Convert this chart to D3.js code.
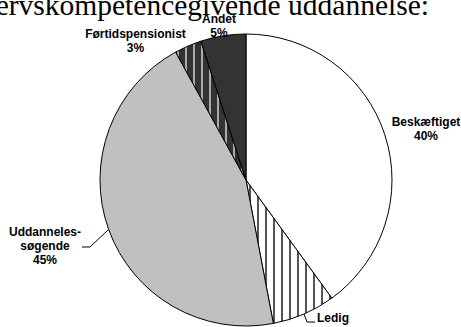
<!DOCTYPE html>
<html>
<head>
<meta charset="utf-8">
<script src="https://cdn.jsdelivr.net/npm/d3@7"></script>
<style>
  html, body { margin: 0; padding: 0; background: #fff; }
  svg { display: block; }
</style>
</head>
<body>
<svg id="chart" width="461" height="327"></svg>
<script>
// Status categories and their shares (%)
const categories = ["Beskæftiget", "Ledig", "Uddannelsessøgende", "Førtidspensionist", "Andet"];
const labelLines = [["Beskæftiget"], ["Ledig"], ["Uddanneles-", "søgende"], ["Førtidspensionist"], ["Andet"]];
const shares = [40, 7, 45, 3, 5];
// Which labels carry a percentage line (the "Ledig" label sits on the bottom edge)
const showPercent = [true, false, true, true, true];
const title = "erhvervskompetencegivende uddannelse:";

const W = 461, H = 327;
const cx = 246, cy = 180, R = 146;

const svg = d3.select("#chart");
const defs = svg.append("defs");

// Vertical-stripe fills
function stripes(id, bg, fg, width) {
  const p = defs.append("pattern")
    .attr("id", id)
    .attr("patternUnits", "userSpaceOnUse")
    .attr("width", 8).attr("height", 8);
  p.append("rect").attr("width", 8).attr("height", 8).attr("fill", bg);
  p.append("rect").attr("x", 3).attr("width", width).attr("height", 8).attr("fill", fg);
}
stripes("stripeLight", "#ffffff", "#555555", 2);
stripes("stripeDark", "#333333", "#aaaaaa", 2);

const fills = ["#ffffff", "url(#stripeLight)", "#c0c0c0", "url(#stripeDark)", "#333333"];

// Title (large serif line running off the top edge)
svg.append("text")
  .attr("x", 429).attr("y", 15)
  .attr("text-anchor", "end")
  .attr("font-family", "'Liberation Serif', 'Times New Roman', serif")
  .attr("font-size", 29.5)
  .attr("fill", "#000")
  .text(title);

const pie = d3.pie().sort(null).value(d => d)
  .startAngle(0).endAngle(2 * Math.PI);
const arcs = pie(shares);
const arc = d3.arc().innerRadius(0).outerRadius(R);

const g = svg.append("g").attr("transform", `translate(${cx},${cy})`);
g.selectAll("path.slice")
  .data(arcs)
  .join("path")
  .attr("class", "slice")
  .attr("d", arc)
  .attr("fill", (d, i) => fills[i])
  .attr("stroke", "#000")
  .attr("stroke-width", 1);

// Label placement (text centre x, first baseline y) and optional leader elbow
const labelLayout = [
  { x: 426, y: 126 },
  { x: 333, y: 322, leader: { ex: 307, ey: 322, tx: 315 } },
  { x: 45, y: 236, leader: { ex: 90, ey: 247, tx: 82 } },
  { x: 135.5, y: 38 },
  { x: 219, y: 23 }
];

const lineH = 14;
arcs.forEach((a, i) => {
  const lay = labelLayout[i];
  const lines = labelLines[i].concat(showPercent[i] ? [d3.format("d")(a.data) + "%"] : []);
  const t = svg.append("text")
    .attr("text-anchor", "middle")
    .attr("font-family", "'Liberation Sans', Arial, sans-serif")
    .attr("font-weight", "bold")
    .attr("font-size", 12)
    .attr("fill", "#000");
  lines.forEach((s, k) => {
    t.append("tspan").attr("x", lay.x).attr("y", lay.y + k * lineH).text(s);
  });
  if (lay.leader) {
    const mid = (a.startAngle + a.endAngle) / 2;
    const px = cx + R * Math.sin(mid), py = cy - R * Math.cos(mid);
    svg.append("polyline")
      .attr("points", [[px, py], [lay.leader.ex, lay.leader.ey], [lay.leader.tx, lay.leader.ey]].map(p => p.join(",")).join(" "))
      .attr("fill", "none")
      .attr("stroke", "#000")
      .attr("stroke-width", 1);
  }
});
</script>
</body>
</html>
